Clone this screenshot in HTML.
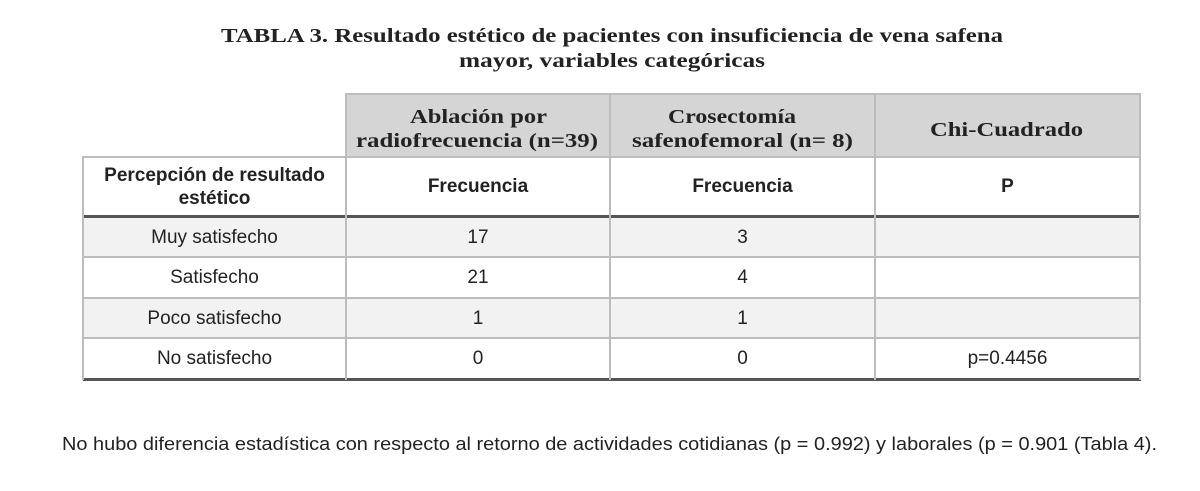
<!DOCTYPE html>
<html><head><meta charset="utf-8"><style>
body{margin:0;width:1200px;height:491px;background:#fff;position:relative;overflow:hidden;font-family:"Liberation Sans",sans-serif;color:#222}
.c{position:absolute;display:flex;align-items:center;justify-content:center;text-align:center;box-sizing:border-box}
.hl{position:absolute;height:2px;background:#bdbdbd}
.vl{position:absolute;width:2px;background:#bdbdbd}
.sb{font-weight:bold;font-size:19px;line-height:23px}
.n{font-size:19px}
svg{position:absolute;left:0;top:0}
</style></head><body>

<div style="position:absolute;left:346px;top:94px;width:794px;height:63px;background:#d5d5d5"></div>
<div style="position:absolute;left:83px;top:217px;width:1057px;height:40px;background:#f2f2f2"></div>
<div style="position:absolute;left:83px;top:298px;width:1057px;height:40px;background:#f2f2f2"></div>

<div class="hl" style="left:345px;top:93px;width:796px"></div>
<div class="hl" style="left:83px;top:156px;width:1058px"></div>
<div style="position:absolute;left:83px;top:215px;width:1058px;height:3px;background:#555"></div>
<div class="hl" style="left:83px;top:256px;width:1058px"></div>
<div class="hl" style="left:83px;top:297px;width:1058px"></div>
<div class="hl" style="left:83px;top:337px;width:1058px"></div>
<div style="position:absolute;left:83px;top:378px;width:1058px;height:3px;background:#555"></div>
<div class="vl" style="left:82px;top:156px;height:224px"></div>
<div class="vl" style="left:345px;top:93px;height:287px"></div>
<div class="vl" style="left:609px;top:93px;height:287px"></div>
<div class="vl" style="left:874px;top:93px;height:287px"></div>
<div class="vl" style="left:1139px;top:93px;height:287px"></div>

<svg width="1200" height="491" font-family="Liberation Serif, serif" font-weight="bold" fill="#222">
<text x="221" y="42" font-size="20" textLength="782" lengthAdjust="spacingAndGlyphs">TABLA 3. Resultado estético de pacientes con insuficiencia de vena safena</text>
<text x="459" y="67" font-size="20" textLength="306" lengthAdjust="spacingAndGlyphs">mayor, variables categóricas</text>
<text x="410" y="123" font-size="20" textLength="137" lengthAdjust="spacingAndGlyphs">Ablación por</text>
<text x="356" y="147" font-size="20" textLength="242" lengthAdjust="spacingAndGlyphs">radiofrecuencia (n=39)</text>
<text x="668" y="123" font-size="20" textLength="128" lengthAdjust="spacingAndGlyphs">Crosectomía</text>
<text x="632" y="147" font-size="20" textLength="221" lengthAdjust="spacingAndGlyphs">safenofemoral (n= 8)</text>
<text x="930" y="136" font-size="20" textLength="153" lengthAdjust="spacingAndGlyphs">Chi-Cuadrado</text>
<text x="62" y="450" font-size="18" font-family="Liberation Sans, sans-serif" font-weight="normal" textLength="1095" lengthAdjust="spacingAndGlyphs">No hubo diferencia estadística con respecto al retorno de actividades cotidianas (p = 0.992) y laborales (p = 0.901 (Tabla 4).</text>
</svg>

<div class="c sb" style="left:83px;top:157px;width:263px;height:59px">Percepción de resultado<br>estético</div>
<div class="c sb" style="left:346px;top:157px;width:264px;height:59px">Frecuencia</div>
<div class="c sb" style="left:610px;top:157px;width:265px;height:59px">Frecuencia</div>
<div class="c sb" style="left:875px;top:157px;width:265px;height:59px">P</div>

<div class="c n" style="left:83px;top:218px;width:263px;height:39px">Muy satisfecho</div>
<div class="c n" style="left:346px;top:218px;width:264px;height:39px">17</div>
<div class="c n" style="left:610px;top:218px;width:265px;height:39px">3</div>
<div class="c n" style="left:83px;top:258px;width:263px;height:40px">Satisfecho</div>
<div class="c n" style="left:346px;top:258px;width:264px;height:40px">21</div>
<div class="c n" style="left:610px;top:258px;width:265px;height:40px">4</div>
<div class="c n" style="left:83px;top:299px;width:263px;height:39px">Poco satisfecho</div>
<div class="c n" style="left:346px;top:299px;width:264px;height:39px">1</div>
<div class="c n" style="left:610px;top:299px;width:265px;height:39px">1</div>
<div class="c n" style="left:83px;top:339px;width:263px;height:40px">No satisfecho</div>
<div class="c n" style="left:346px;top:339px;width:264px;height:40px">0</div>
<div class="c n" style="left:610px;top:339px;width:265px;height:40px">0</div>
<div class="c n" style="left:875px;top:339px;width:265px;height:40px">p=0.4456</div>
</body></html>
